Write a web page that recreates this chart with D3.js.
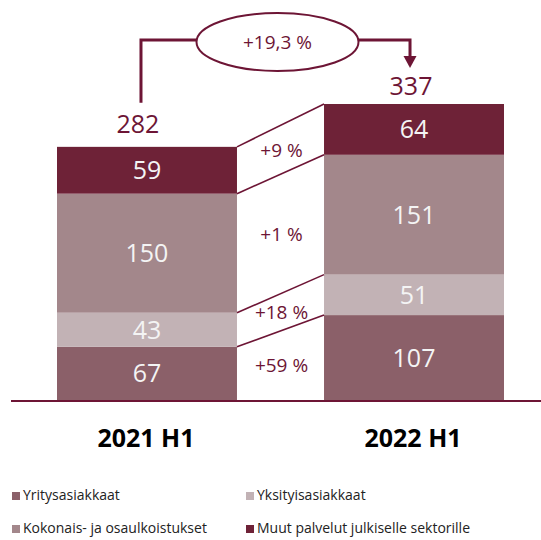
<!DOCTYPE html>
<html>
<head>
<meta charset="utf-8">
<script src="https://cdn.jsdelivr.net/npm/d3@7"></script>
<style>
  body { margin: 0; background: #fff; }
  svg { display: block; font-family: "Open Sans", sans-serif; }
</style>
</head>
<body>
<svg id="chart" width="541" height="540"></svg>
<script>
// data
var periods = ['2021 H1', '2022 H1'];
var seriesNames = ['Yritysasiakkaat', 'Yksityisasiakkaat', 'Kokonais- ja osaulkoistukset', 'Muut palvelut julkiselle sektorille'];
var yritys = [67, 107];
var yksityis = [43, 51];
var kokonais = [150, 151];
var muut = [59, 64];
var totals = [282, 337];
var changes = ['+59 %', '+18 %', '+1 %', '+9 %'];
var totalChange = '+19,3 %';

var colors = ['#8b6069', '#c2b2b5', '#a3878b', '#6e2237'];
var maroon = '#6d1535';

var svg = d3.select('#chart');

var rows = periods.map(function (p, i) {
  return { period: p, s0: yritys[i], s1: yksityis[i], s2: kokonais[i], s3: muut[i] };
});
var keys = ['s0', 's1', 's2', 's3'];
var stacked = d3.stack().keys(keys)(rows);

var x = d3.scaleBand().domain(periods).range([57, 504]).paddingInner(0.326).paddingOuter(0);
var y = d3.scaleLinear().domain([0, d3.max(rows, function (d) { return d.s0 + d.s1 + d.s2 + d.s3; })]).range([400, 104]);
var bw = x.bandwidth();

// bars
var layers = svg.selectAll('g.layer')
  .data(stacked)
  .enter().append('g')
  .attr('class', 'layer')
  .attr('fill', function (d, i) { return colors[i]; });

layers.selectAll('rect')
  .data(function (d) { return d; })
  .enter().append('rect')
  .attr('x', function (d) { return x(d.data.period); })
  .attr('y', function (d) { return y(d[1]); })
  .attr('width', bw)
  .attr('height', function (d) { return y(d[0]) - y(d[1]); });

layers.selectAll('text')
  .data(function (d) { return d; })
  .enter().append('text')
  .attr('x', function (d) { return x(d.data.period) + bw / 2; })
  .attr('y', function (d) { return (y(d[0]) + y(d[1])) / 2 + 9; })
  .attr('text-anchor', 'middle')
  .attr('fill', '#f4f4f4')
  .attr('font-size', 25)
  .text(function (d) { return d[1] - d[0]; });

// connector lines between bars
var gapL = x(periods[0]) + bw;
var gapR = x(periods[1]);
svg.selectAll('line.conn')
  .data(stacked)
  .enter().append('line')
  .attr('class', 'conn')
  .attr('x1', gapL)
  .attr('x2', gapR)
  .attr('y1', function (d) { return y(d[0][1]); })
  .attr('y2', function (d) { return y(d[1][1]); })
  .attr('stroke', maroon)
  .attr('stroke-width', 1.6);

// change labels
svg.selectAll('text.chg')
  .data(stacked)
  .enter().append('text')
  .attr('class', 'chg')
  .attr('x', (gapL + gapR) / 2 + 1)
  .attr('y', function (d) {
    var m0 = (y(d[0][0]) + y(d[0][1])) / 2;
    var m1 = (y(d[1][0]) + y(d[1][1])) / 2;
    return (m0 + m1) / 2 + 7;
  })
  .attr('text-anchor', 'middle')
  .attr('fill', maroon)
  .attr('font-size', 19)
  .text(function (d, i) { return changes[i]; });

// axis line
svg.append('line')
  .attr('x1', 11).attr('x2', 541)
  .attr('y1', 401).attr('y2', 401)
  .attr('stroke', maroon)
  .attr('stroke-width', 2);

// category labels
svg.selectAll('text.cat')
  .data(periods)
  .enter().append('text')
  .attr('class', 'cat')
  .attr('x', function (d) { return x(d) + bw / 2 - 1; })
  .attr('y', 447)
  .attr('text-anchor', 'middle')
  .attr('font-size', 25)
  .attr('font-weight', 700)
  .attr('fill', '#000')
  .text(function (d) { return d; });

// totals
var tops = rows.map(function (d) { return y(d.s0 + d.s1 + d.s2 + d.s3); });
svg.selectAll('text.total')
  .data(totals)
  .enter().append('text')
  .attr('class', 'total')
  .attr('x', function (d, i) { return x(periods[i]) + bw / 2 - (i === 0 ? 9 : 3); })
  .attr('y', function (d, i) { return tops[i] - (i === 0 ? 14 : 9); })
  .attr('text-anchor', 'middle')
  .attr('fill', maroon)
  .attr('font-size', 25)
  .text(function (d) { return d; });

// total change bracket with ellipse
var bxL = x(periods[0]) + bw / 2 - 6;
var bxR = x(periods[1]) + bw / 2 - 4;
var by = 40;
var ecx = (bxL + bxR) / 2 + 2, ecy = 42, erx = 81, ery = 29;
svg.append('path')
  .attr('d', 'M' + bxL + ',' + (tops[0] - 44) + 'V' + by + 'H' + (ecx - erx))
  .attr('fill', 'none').attr('stroke', maroon).attr('stroke-width', 3);
svg.append('path')
  .attr('d', 'M' + (ecx + erx) + ',' + by + 'H' + bxR + 'V' + 57)
  .attr('fill', 'none').attr('stroke', maroon).attr('stroke-width', 3);
svg.append('path')
  .attr('d', 'M' + (bxR - 6.5) + ',56L' + (bxR + 6.5) + ',56L' + bxR + ',' + 68 + 'Z')
  .attr('fill', maroon);
svg.append('ellipse')
  .attr('cx', ecx).attr('cy', ecy).attr('rx', erx).attr('ry', ery)
  .attr('fill', '#fff').attr('stroke', maroon).attr('stroke-width', 2);
svg.append('text')
  .attr('x', ecx).attr('y', ecy + 7)
  .attr('text-anchor', 'middle')
  .attr('fill', maroon)
  .attr('font-size', 19)
  .text(totalChange);

// legend
var legendPos = [[12, 500], [246, 500], [12, 533], [246, 533]];
var legend = svg.selectAll('g.legend')
  .data(seriesNames)
  .enter().append('g')
  .attr('class', 'legend')
  .attr('transform', function (d, i) {
    return 'translate(' + legendPos[i][0] + ',' + legendPos[i][1] + ')';
  });
legend.append('rect')
  .attr('x', 0).attr('y', -8)
  .attr('width', 8).attr('height', 8)
  .attr('fill', function (d, i) { return colors[i]; });
legend.append('text')
  .attr('x', 11).attr('y', 0)
  .attr('font-size', 14)
  .attr('fill', '#222')
  .text(function (d) { return d; });
</script>
</body>
</html>
